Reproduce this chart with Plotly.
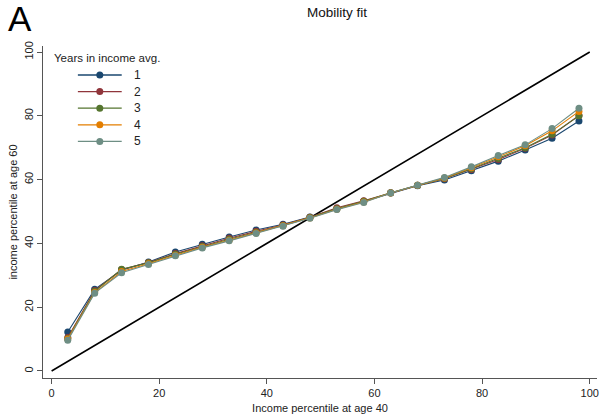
import plotly.graph_objects as go

x_pct = [3, 8, 13, 18, 23, 28, 33, 38, 43, 48, 53, 58, 63, 68, 73, 78, 83, 88, 93, 98]
s1 = [12.2, 25.6, 31.6, 34.2, 37.3, 39.7, 42.0, 44.2, 46.0, 48.3, 50.8, 53.2, 55.8, 58.1, 59.9, 62.8, 65.8, 69.3, 73.0, 78.4]
s2 = [10.5, 25.2, 31.8, 34.0, 36.8, 39.3, 41.6, 43.8, 45.8, 48.2, 51.2, 53.4, 55.9, 58.2, 60.3, 63.2, 66.3, 69.8, 74.0, 80.1]
s3 = [10.2, 25.0, 31.9, 33.9, 36.6, 39.0, 41.3, 43.5, 45.6, 48.1, 50.9, 53.2, 55.9, 58.2, 60.4, 63.4, 66.6, 70.0, 74.2, 80.0]
s4 = [10.0, 24.6, 31.2, 33.6, 36.3, 38.8, 41.0, 43.3, 45.5, 48.0, 50.7, 53.0, 55.8, 58.2, 60.5, 63.7, 67.2, 70.6, 75.3, 81.4]
s5 = [9.6, 24.4, 30.8, 33.4, 36.1, 38.6, 40.8, 43.1, 45.4, 47.9, 50.6, 52.8, 55.8, 58.2, 60.7, 64.0, 67.6, 70.9, 76.0, 82.4]
series_names = ["1", "2", "3", "4", "5"]
series_colors = ["#1a476f", "#90353b", "#55752f", "#e37e00", "#6e8e84"]
diag = [0, 100]
tick_vals = [0, 20, 40, 60, 80, 100]

FONT = "Liberation Sans, Arial, sans-serif"
W, H = 605, 419
ML, MR, MT, MB = 43, 6, 46, 41
PW, PH = W - ML - MR, H - MT - MB


def px_x(p):
    return (p - ML) / PW


def px_y(p):
    return 1 - (p - MT) / PH


fig = go.Figure()
fig.add_trace(go.Scatter(x=diag, y=diag, mode="lines", line=dict(color="black", width=1.6),
                         showlegend=False, hoverinfo="skip"))
for name, col, ys in zip(series_names, series_colors, [s1, s2, s3, s4, s5]):
    fig.add_trace(go.Scatter(x=x_pct, y=ys, mode="lines+markers", name=name, showlegend=False,
                             line=dict(color=col, width=1.1),
                             marker=dict(color=col, size=7, line=dict(width=0))))

# manual legend (Stata-style)
shapes = []
annotations = [
    dict(text="Mobility fit", x=0.53, y=1.0, xref="paper", yref="paper", yanchor="bottom",
         yshift=24, showarrow=False, font=dict(family=FONT, size=13.5, color="#111")),
    dict(text="A", x=px_x(6), y=1.0, xref="paper", yref="paper", xanchor="left", yanchor="bottom",
         yshift=6, showarrow=False, font=dict(family=FONT, size=35, color="black")),
    dict(text="Years in income avg.", x=px_x(52), y=px_y(58), xref="paper", yref="paper",
         xanchor="left", yanchor="middle", showarrow=False,
         font=dict(family=FONT, size=11.5, color="#222")),
]
for i, (name, col) in enumerate(zip(series_names, series_colors)):
    ry = px_y(75 + 16.6 * i)
    shapes.append(dict(type="line", xref="paper", yref="paper", x0=px_x(78), x1=px_x(122),
                       y0=ry, y1=ry, line=dict(color=col, width=1.3)))
    shapes.append(dict(type="circle", xref="paper", yref="paper", xsizemode="pixel", ysizemode="pixel",
                       xanchor=px_x(100), yanchor=ry, x0=-3.5, x1=3.5, y0=-3.5, y1=3.5,
                       fillcolor=col, line=dict(width=0)))
    annotations.append(dict(text=name, x=px_x(132), y=ry, xref="paper", yref="paper",
                            xanchor="left", yanchor="middle", showarrow=False,
                            font=dict(family=FONT, size=12, color="#222")))

axis_common = dict(showgrid=False, zeroline=False, showline=True, linecolor="#555555", linewidth=1,
                   ticks="outside", ticklen=5, tickcolor="#555555", tickwidth=1,
                   tickvals=tick_vals, tickfont=dict(family=FONT, size=11, color="#222"),
                   mirror=False)

fig.update_layout(
    width=W, height=H,
    margin=dict(l=ML, r=MR, t=MT, b=MB),
    paper_bgcolor="white", plot_bgcolor="white",
    font=dict(family=FONT, size=11, color="#222"),
    xaxis=dict(range=[-1.6, 101.35], title=dict(text="Income percentile at age 40", standoff=6,
               font=dict(family=FONT, size=11)), **axis_common),
    yaxis=dict(range=[-2.2, 101.9], tickangle=-90, title=dict(text="income percentile at age 60", standoff=2,
               font=dict(family=FONT, size=11)), **axis_common),
    showlegend=False,
    shapes=shapes,
    annotations=annotations,
)

fig.write_html("out.html")
